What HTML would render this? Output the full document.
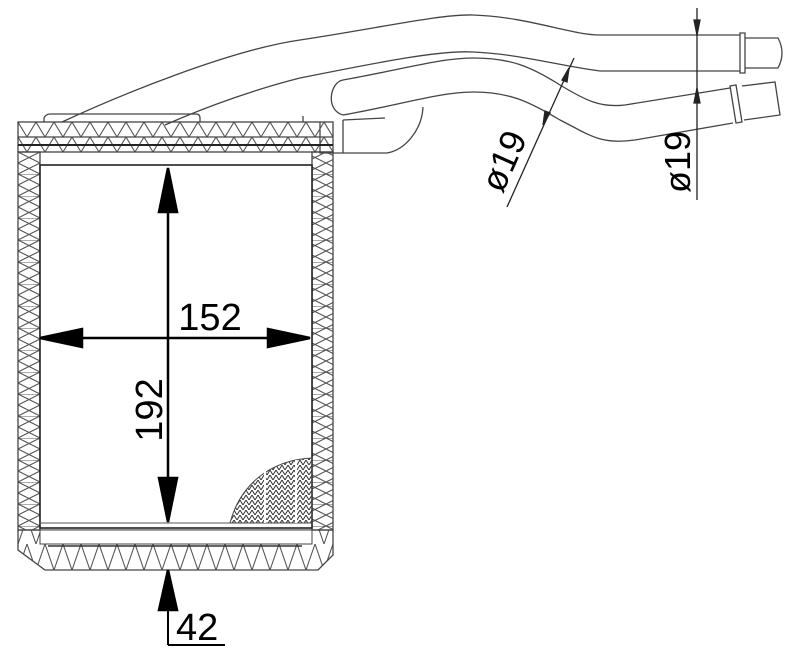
<!DOCTYPE html>
<html><head><meta charset="utf-8"><style>html,body{margin:0;padding:0;background:#fff}svg{display:block}</style></head><body>
<svg width="800" height="668" viewBox="0 0 800 668" xmlns="http://www.w3.org/2000/svg" font-family="Liberation Sans, sans-serif">
<defs>
<pattern id="hz" width="18" height="15" patternUnits="userSpaceOnUse" y="122">
<path d="M0 0 L9 15 L18 0 M0 0H18" stroke="#555" stroke-width="1.1" fill="none"/>
</pattern>
<pattern id="hzb" width="18" height="26" patternUnits="userSpaceOnUse" y="544">
<path d="M0 26 L9 0 L18 26" stroke="#555" stroke-width="1.1" fill="none"/>
</pattern>
<pattern id="vt" width="22" height="22" patternUnits="userSpaceOnUse" x="18" y="152">
<path d="M0 0 L22 11 L0 22 M22 0 L0 11 L22 22 M0 0H22" stroke="#555" stroke-width="1.1" fill="none"/>
</pattern>
<pattern id="mesh" width="6" height="5" patternUnits="userSpaceOnUse">
<path d="M0 0 L3 5 L6 0" stroke="#333" stroke-width="1" fill="none"/>
</pattern>
</defs>
<g fill="none" stroke="#444" stroke-width="1.3">
<path d="M62 122 C120 95 230 50 300 40 C380 28 440 14 473 15 C530 17 570 35 600 35 L740 35"/>
<path d="M165 125 C210 105 260 88 300 78 C380 62 440 50 473 52 C520 54 560 66 600 71 L740 71"/>
<path d="M740 33 L745 33 L745 73 L740 73 Z M745 38 L778 38 Q786 53 778 68 L745 68"/>
<path d="M343 115 C325 110 330 82 343 80 C400 70 440 58 473 58 C510 58 530 66 560 85 C585 100 600 108 625 105 L730 88"/>
<path d="M343 115 C400 105 440 92 473 92 C510 92 530 102 560 120 C590 135 600 145 635 140 L733 123"/>
<path d="M730 86 L736 85 L742 122 L736 123 Z M742 86 L775 82 L780 115 L744 120"/>
<path d="M343 120 L343 153 L387 153 C405 150 422 130 423 107"/>
<path d="M343 120 L385 118"/>
<path d="M44 122 L44 118 Q46 114 50 114 L196 114 Q200 114 200 118 L200 122"/>
<path d="M303 116 L303 122 M320 122 L320 153 L343 153"/>
</g>
<rect x="18" y="122" width="315" height="30" fill="url(#hz)" stroke="#444" stroke-width="1.3"/>
<line x1="18" y1="137" x2="333" y2="137" stroke="#444" stroke-width="1.2"/>
<line x1="18" y1="145" x2="333" y2="145" stroke="#222" stroke-width="2"/>
<rect x="18" y="152" width="22" height="378" fill="url(#vt)" stroke="#444" stroke-width="1.3"/>
<rect x="312" y="152" width="21" height="378" fill="url(#vt)" stroke="#444" stroke-width="1.3"/>
<path d="M18 530 L333 530 L333 555 L318 570 L45 570 L18 550 Z" fill="url(#hzb)" stroke="#444" stroke-width="1.3"/>
<rect x="40" y="530" width="272" height="14" fill="#fff" stroke="#444" stroke-width="1"/>
<line x1="48" y1="546" x2="302" y2="546" stroke="#333" stroke-width="1.5"/>
<rect x="40" y="165" width="272" height="363" fill="#fff" stroke="#222" stroke-width="1.6"/>
<line x1="40" y1="523" x2="312" y2="523" stroke="#555" stroke-width="1"/>
<path d="M230 523 C240 485 270 460 312 458 L312 523 Z" fill="url(#mesh)" stroke="#444" stroke-width="1"/>
<line x1="265" y1="470" x2="265" y2="523" stroke="#fff" stroke-width="2"/>
<line x1="296" y1="460" x2="296" y2="523" stroke="#fff" stroke-width="2"/>
<g stroke="#000" stroke-width="2.5" fill="#000">
<line x1="168" y1="178" x2="168" y2="512"/>
<path d="M168 168 L159 212 L177 212 Z"/>
<path d="M168 522 L159 478 L177 478 Z"/>
<line x1="50" y1="338" x2="300" y2="338"/>
<path d="M40 338 L82 329 L82 347 Z"/>
<path d="M310 338 L268 329 L268 347 Z"/>
<line x1="168" y1="580" x2="168" y2="645" stroke-width="2"/>
<path d="M168 570 L159 610 L177 610 Z"/>
<line x1="168" y1="645" x2="225" y2="645" stroke-width="2"/>
</g>
<text x="210" y="330" font-size="38" text-anchor="middle">152</text>
<text transform="translate(162,410) rotate(-90)" font-size="38" text-anchor="middle">192</text>
<text x="176" y="640" font-size="38">42</text>
<g stroke="#222" stroke-width="1.3" fill="#222">
<line x1="574" y1="58" x2="507" y2="207"/>
<path d="M569 68 L562 80 L567 82 Z"/>
<path d="M543 125 L550 113 L545 111 Z"/>
<line x1="697" y1="8" x2="697" y2="200"/>
<path d="M697 35 L694 20 L700 20 Z"/>
<path d="M697 88 L694 103 L700 103 Z"/>
</g>
<text transform="translate(515,166) rotate(-66)" font-size="36" text-anchor="middle">ø19</text>
<text transform="translate(690,162) rotate(-90)" font-size="36" text-anchor="middle">ø19</text>
</svg>
</body></html>
